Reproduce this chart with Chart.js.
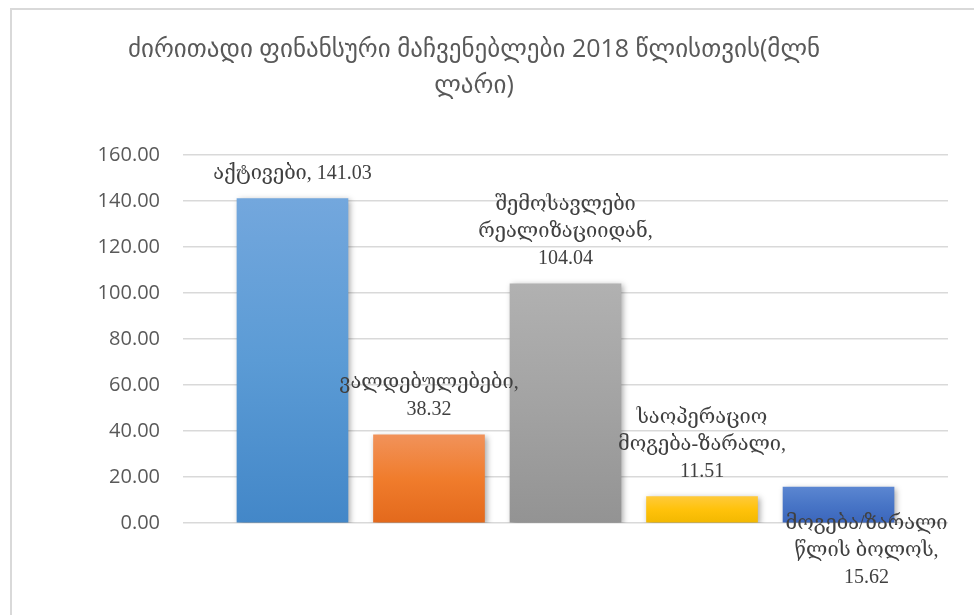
<!DOCTYPE html>
<html>
<head>
<meta charset="utf-8">
<script src="https://cdn.jsdelivr.net/npm/chart.js@4/dist/chart.umd.min.js"></script>
<style>
  html, body { margin: 0; padding: 0; background: #fff; overflow: hidden; }
  #wrap { position: relative; width: 974px; height: 615px; }
  #frame {
    position: absolute; left: 10px; top: 8px; width: 2000px; height: 2000px;
    border-left: 2px solid #d9d9d9; border-top: 2px solid #d9d9d9;
    pointer-events: none;
  }
  canvas { position: absolute; left: 0; top: 0; }
</style>
</head>
<body>
<div id="wrap">
  <canvas id="chart" width="974" height="615"></canvas>
  <div id="frame"></div>
</div>
<script>
//----------------------------------------------------------
// Key financial indicators for 2018 (mln GEL), bar chart.
//----------------------------------------------------------

// Data.
const titleLines = ["ძირითადი ფინანსური მაჩვენებლები 2018 წლისთვის(მლნ", "ლარი)"];
const categories = [
  "აქტივები",
  "ვალდებულებები",
  "შემოსავლები რეალიზაციიდან",
  "საოპერაციო მოგება-ზარალი",
  "მოგება/ზარალი წლის ბოლოს"
];
const values = [141.03, 38.32, 104.04, 11.51, 15.62];
const yTicks = [0, 20, 40, 60, 80, 100, 120, 140, 160];

// Styling: gradient stops per bar (top, middle, bottom).
const barColors = [
  ["#73a7dd", "#5b9bd5", "#4387c8"],
  ["#f1925a", "#f07c2c", "#e3691c"],
  ["#b1b1b1", "#a3a3a3", "#939393"],
  ["#ffca3a", "#ffc20a", "#f2b800"],
  ["#5b86d1", "#4875c6", "#3b66bc"]
];

// Where each data label sits relative to its bar (Excel placed the last one below).
const labelPlacement = [
  { dx: 0, below: false },
  { dx: 0, below: false },
  { dx: 0, below: false },
  { dx: 0, below: false },
  { dx: 28, below: true }
];

const labelFont = "20px 'Liberation Serif', 'DejaVu Serif', serif";
const labelLineHeight = 27;
const labelMaxWidth = 172;

// Helper: split text into lines no wider than maxWidth.
function wrapWords(ctx, text, maxWidth) {
  const words = text.split(" ");
  const lines = [];
  let line = "";
  words.forEach(w => {
    const test = line ? line + " " + w : w;
    if (line && ctx.measureText(test).width > maxWidth) {
      lines.push(line);
      line = w;
    } else {
      line = test;
    }
  });
  if (line) lines.push(line);
  return lines;
}

// Soft drop shadow under the bars.
const barShadow = {
  id: "barShadow",
  beforeDatasetsDraw(chart) {
    const c = chart.ctx;
    c.save();
    c.shadowColor = "rgba(0,0,0,0.35)";
    c.shadowBlur = 6;
    c.shadowOffsetX = 2;
    c.shadowOffsetY = 2;
  },
  afterDatasetsDraw(chart) {
    chart.ctx.restore();
  }
};

// "name, value" labels drawn above each bar.
const valueLabels = {
  id: "valueLabels",
  afterDatasetsDraw(chart) {
    const ctx = chart.ctx;
    const meta = chart.getDatasetMeta(0);
    ctx.save();
    ctx.font = labelFont;
    ctx.fillStyle = "#404040";
    ctx.textAlign = "center";
    ctx.textBaseline = "middle";
    meta.data.forEach((bar, i) => {
      const lines = wrapWords(ctx, categories[i] + ", " + values[i].toFixed(2), labelMaxWidth);
      const place = labelPlacement[i];
      const x = bar.x + place.dx;
      const y0 = place.below
        ? bar.y + 37
        : bar.y - 25 - (lines.length - 1) * labelLineHeight;
      lines.forEach((ln, k) => ctx.fillText(ln, x, y0 + k * labelLineHeight));
    });
    ctx.restore();
  }
};

function barGradient(context) {
  const chart = context.chart;
  const i = context.dataIndex;
  const stops = barColors[i];
  if (!chart.chartArea || !chart.scales.y) return stops[1];
  const top = chart.scales.y.getPixelForValue(values[i]);
  const base = chart.scales.y.getPixelForValue(0);
  const g = chart.ctx.createLinearGradient(0, top, 0, base);
  g.addColorStop(0, stops[0]);
  g.addColorStop(0.5, stops[1]);
  g.addColorStop(1, stops[2]);
  return g;
}

new Chart(document.getElementById("chart"), {
  type: "bar",
  data: {
    datasets: [{
      data: values.map((v, i) => ({ x: i, y: v })),
      backgroundColor: barGradient,
      borderWidth: 0,
      barThickness: 111
    }]
  },
  options: {
    responsive: false,
    animation: false,
    layout: { padding: { left: 0, right: 26, top: 0, bottom: 92 } },
    plugins: {
      legend: { display: false },
      tooltip: { enabled: false },
      title: {
        display: true,
        text: titleLines,
        color: "#595959",
        font: { family: "'Open Sans', 'DejaVu Sans', sans-serif", size: 25, weight: "normal", lineHeight: 1.44 },
        padding: { top: 32, bottom: 51 }
      }
    },
    scales: {
      x: {
        type: "linear",
        min: -0.802,
        max: 4.802,
        offset: false,
        display: false
      },
      y: {
        min: yTicks[0],
        max: yTicks[yTicks.length - 1],
        afterFit: s => { s.width = 183; },
        afterBuildTicks: s => { s.ticks = yTicks.map(v => ({ value: v })); },
        border: { display: false },
        grid: { color: "#d9d9d9", lineWidth: 1.5, drawTicks: false },
        ticks: {
          padding: 23,
          color: "#595959",
          font: { family: "'Open Sans', 'DejaVu Sans', sans-serif", size: 20 },
          callback: v => Number(v).toFixed(2)
        }
      }
    }
  },
  plugins: [barShadow, valueLabels]
});
</script>
</body>
</html>
